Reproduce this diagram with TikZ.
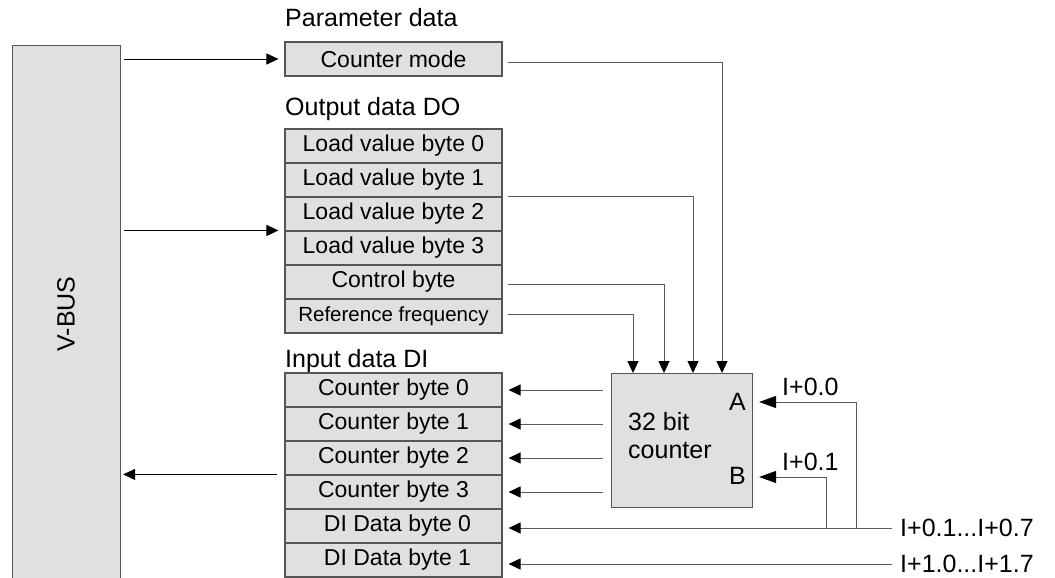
\documentclass[tikz,border=0pt]{standalone}
\usepackage{fontspec}
\setmainfont{Liberation Sans}
\usetikzlibrary{arrows.meta}

\definecolor{boxfill}{HTML}{E0E0E0}
\definecolor{boxline}{HTML}{555555}
\definecolor{wiregray}{HTML}{5A5A5A}

\tikzset{
  cell/.style={draw=boxline, fill=boxfill, line width=1.1pt, minimum width=217pt,
    minimum height=34pt, inner sep=0pt, font=\fontsize{23}{27}\selectfont},
  lbl/.style={inner sep=0pt, font=\fontsize{25}{30}\selectfont},
  wire/.style={draw=wiregray, line width=0.9pt},
  bus/.style={draw=black, line width=0.9pt},
  tip/.style={-{Triangle[length=12pt,width=11pt,color=black]}},
  bigtip/.style={-{Triangle[length=17pt,width=12pt,color=black]}}
}

\begin{document}
\begin{tikzpicture}[x=1pt,y=-1pt]
  \useasboundingbox (0,0) rectangle (1055,578);

  % bus on the left
  \node[draw=boxline, fill=boxfill, line width=1.1pt, minimum width=108pt,
    minimum height=570pt, anchor=north west] (vbus) at (12,45) {};
  \node[lbl, rotate=90] (vbuslbl) at (66,314) {V-BUS};

  % parameter data
  \node[lbl, anchor=base west] (partitle) at (285,27) {Parameter data};
  \node[cell] (cmode) at (393.5,59) {Counter mode};

  % output data
  \node[lbl, anchor=base west] (outtitle) at (285,115) {Output data DO};
  \node[cell] (lv0) at (393.5,146) {Load value byte 0};
  \node[cell] (lv1) at (393.5,180) {Load value byte 1};
  \node[cell] (lv2) at (393.5,214) {Load value byte 2};
  \node[cell] (lv3) at (393.5,248) {Load value byte 3};
  \node[cell] (ctrl) at (393.5,282) {Control byte};
  \node[cell, font=\fontsize{20.5}{24}\selectfont] (rfreq) at (393.5,316) {Reference frequency};

  % input data
  \node[lbl, anchor=base west] (intitle) at (285,367) {Input data DI};
  \node[cell] (cb0) at (393.5,390) {Counter byte 0};
  \node[cell] (cb1) at (393.5,424) {Counter byte 1};
  \node[cell] (cb2) at (393.5,458) {Counter byte 2};
  \node[cell] (cb3) at (393.5,492) {Counter byte 3};
  \node[cell] (di0) at (393.5,526) {\hspace*{8pt}DI Data byte 0};
  \node[cell] (di1) at (393.5,560) {\hspace*{8pt}DI Data byte 1};

  % counter
  \node[draw=boxline, fill=boxfill, line width=1.1pt, minimum width=141pt,
    minimum height=134pt, anchor=north west] (ctr) at (611,373) {};
  \node[lbl, anchor=base west] (ctrtxt1) at (628,430) {32 bit};
  \node[lbl, anchor=base west] (ctrtxt2) at (628,458) {counter};
  \node[lbl, anchor=base east] (pinA) at (746,410) {A};
  \node[lbl, anchor=base east] (pinB) at (746,484) {B};
  \coordinate (pa) at ([yshift=-29pt]ctr.north east);
  \coordinate (pb) at ([yshift=-104pt]ctr.north east);

  % bus connections
  \draw[bus, tip, shorten <=3pt, shorten >=6pt] (vbus.east |- cmode.west) -- (cmode.west);
  \draw[bus, tip, shorten <=3pt, shorten >=6pt] (vbus.east |- lv3.north west) -- (lv3.north west);
  \draw[bus, tip, shorten <=7pt, shorten >=2pt] (cb3.north west) -- (vbus.east |- cb3.north west);

  % into the counter
  \draw[wire, tip] ([shift={(5pt,-3pt)}]cmode.east) -| ([xshift=111pt]ctr.north west);
  \draw[wire, tip] ([xshift=5pt]lv2.north east) -| ([xshift=82pt]ctr.north west);
  \draw[wire, tip] ([shift={(5pt,-2pt)}]ctrl.east) -| ([xshift=53pt]ctr.north west);
  \draw[wire, tip] ([shift={(5pt,2pt)}]rfreq.east) -| ([xshift=22pt]ctr.north west);

  % out of the counter
  \foreach \r in {cb0,cb1,cb2,cb3}
    \draw[wire, tip, shorten <=8pt, shorten >=6pt] (ctr.west |- \r.east) -- (\r.east);

  % inputs
  \coordinate (in0) at (892,528);
  \coordinate (in1) at (892,564);
  \coordinate (ina) at (856,528);
  \coordinate (inb) at (826,528);
  \draw[wire, tip, shorten >=6pt] (in0) -- (in0 -| di0.east);
  \draw[wire, tip, shorten >=6pt] (in1) -- (in1 -| di1.east);
  \draw[wire, bigtip, shorten >=6pt] (ina) |- (pa);
  \draw[wire, bigtip, shorten >=6pt] (inb) |- (pb);
  \node[lbl, anchor=west] (in0lbl) at ([xshift=8pt]in0) {I+0.1...I+0.7};
  \node[lbl, anchor=west] (in1lbl) at ([xshift=8pt]in1) {I+1.0...I+1.7};
  \node[lbl, anchor=base west] (inalbl) at (782,395) {I+0.0};
  \node[lbl, anchor=base west] (inblbl) at (782,470) {I+0.1};
\end{tikzpicture}
\end{document}
